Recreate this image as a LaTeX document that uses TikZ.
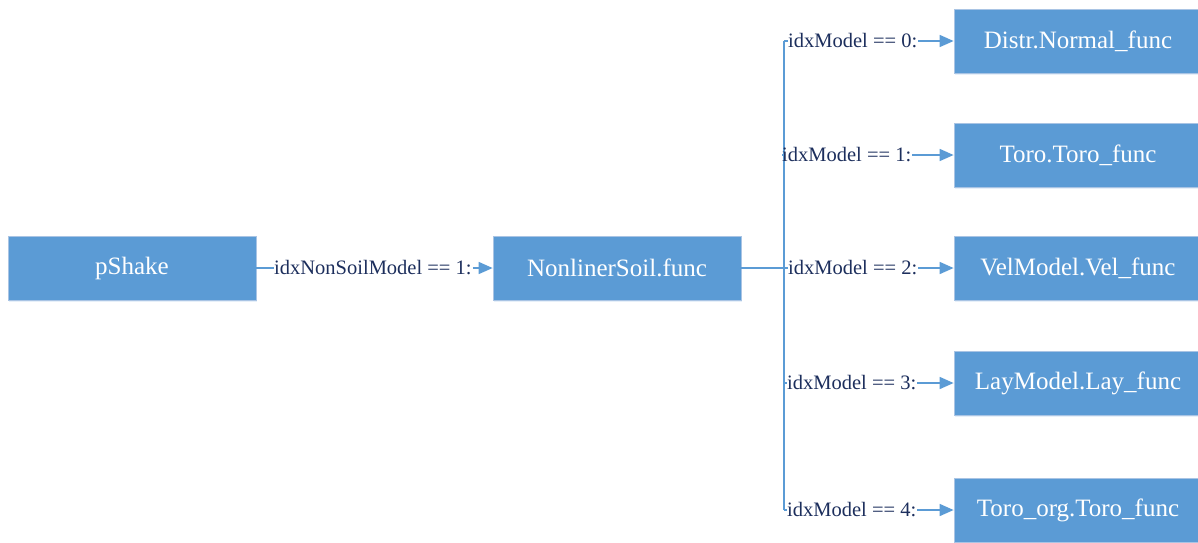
\documentclass[tikz,border=0pt]{standalone}
\usepackage{fontspec}
\setmainfont{Liberation Serif}
\usetikzlibrary{arrows.meta,shadows}
\definecolor{boxblue}{HTML}{5B9BD5}
\definecolor{boxedge}{HTML}{A9C4E4}
\definecolor{labnavy}{HTML}{1C2E5C}
\begin{document}
\begin{tikzpicture}[x=1pt,y=-1pt,
  fbox/.style={rectangle,fill=boxblue,draw=boxedge,line width=0.8pt,minimum width=248pt,minimum height=64pt,inner sep=0pt,text=white,font=\fontsize{25}{28}\selectfont,
    drop shadow={shadow xshift=1pt,shadow yshift=-2pt,opacity=0.15,fill=boxblue}},
  lab/.style={anchor=west,inner sep=0pt,text=labnavy,font=\fontsize{20.5}{23}\selectfont},
  conn/.style={draw=boxblue,line width=1.6pt},
  arr/.style={conn,-{Triangle[length=14pt,width=12pt]}}]
\useasboundingbox (0,0) rectangle (1198,542);
\begin{scope}
\clip (0,0) rectangle (1198,542);
\node[fbox] (p) at (132,268) {pShake};
\node[fbox] (n) at (617,268) {NonlinerSoil.func};
\node[fbox] (b0) at (1078,41) {Distr.Normal\_func};
\node[fbox] (b1) at (1078,155) {Toro.Toro\_func};
\node[fbox] (b2) at (1078,268) {VelModel.Vel\_func};
\node[fbox] (b3) at (1078,383) {LayModel.Lay\_func};
\node[fbox] (b4) at (1078,510) {Toro\_org.Toro\_func};

\node[lab] (l) at (274,268) {idxNonSoilModel == 1:};
\draw[conn] (p.east) -- (l.west);
\draw[arr] ([xshift=1pt]l.east) -- (n.west);

\coordinate (jt) at (784,268);
\coordinate (top) at (784,41);
\coordinate (bot) at (784,510);
\draw[conn] (n.east) -- (jt);
\draw[conn] (top) -- (bot);

\node[lab] (l0) at (788,41) {idxModel == 0:};
\node[lab] (l1) at (782,155) {idxModel == 1:};
\node[lab] (l2) at (788,268) {idxModel == 2:};
\node[lab] (l3) at (787,383) {idxModel == 3:};
\node[lab] (l4) at (787,510) {idxModel == 4:};
\foreach \i in {0,...,4}{
  \draw[conn] (784,0 |- l\i.west) -- (l\i.west);
  \draw[arr] ([xshift=1pt]l\i.east) -- (b\i.west);
}
\end{scope}
\end{tikzpicture}
\end{document}
